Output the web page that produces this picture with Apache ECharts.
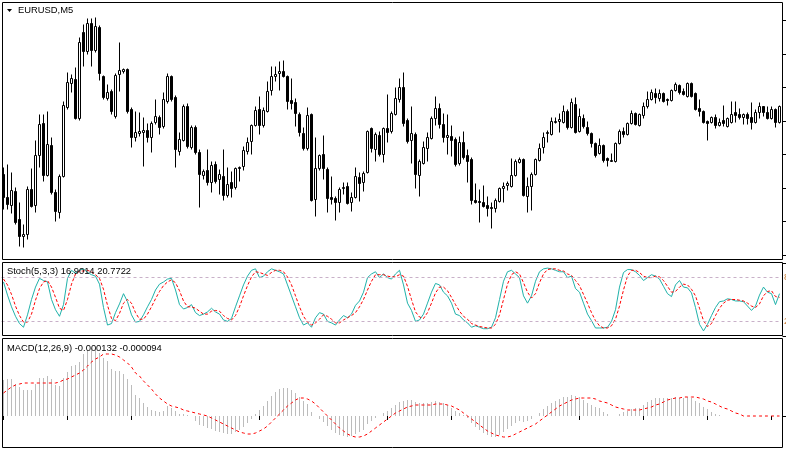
<!DOCTYPE html>
<html><head><meta charset="utf-8">
<script src="https://cdn.jsdelivr.net/npm/echarts@6/dist/echarts.min.js"></script>
<style>html,body{margin:0;padding:0;background:#fff}#c{width:786px;height:452px}</style>
</head><body><div id="c"></div>
<script>
// Price values (points above panel bottom), one per M5 bar
const open = [
84,61,53,67,39,22,24,69,53,103, 135,83,113,66,46,82,151,175,179,140,
226,207,235,208,231,182,160,167,142,184, 187,189,149,121,125,126,128,121,136,141,
132,157,182,161,107,118,152,111,131,106, 83,88,76,94,79,82,63,76,71,90,
92,107,117,133,149,133,147,168,182,185, 187,182,158,156,144,125,110,144,59,90,
104,89,61,60,56,70,72,56,61,81, 76,86,130,109,123,104,130,127,144,159,
171,138,118,124,83,95,110,120,140,150, 134,121,122,119,95,116,103,99,58,57,
56,53,51,50,57,70,73,72,83,96, 99,62,72,84,98,111,125,124,136,137,
136,147,131,154,127,140,131,125,115,105, 113,100,97,97,115,127,124,135,145,133,
143,152,159,165,160,165,159,158,168,173, 167,162,175,165,150,147,137,136,141,133,
138,132,136,146,144,141,144,141,136,146, 152,146,140,149,136];
const close = [
61,54,68,36,22,24,69,52,103,134, 83,114,66,47,82,153,176,180,140,216,
207,235,208,232,185,161,166,147,183,188, 189,147,121,126,127,128,121,135,142,131,
159,182,159,109,119,152,112,131,106,84, 87,76,93,77,84,63,74,70,90,91,
108,116,133,148,133,148,167,182,184,187, 182,157,155,145,126,110,143,58,90,103,
90,60,59,56,69,71,55,61,82,75, 85,127,110,124,104,130,126,145,160,171,
135,117,125,84,97,111,121,140,150,134, 121,123,118,94,116,101,97,58,56,56,
52,50,50,58,70,72,75,83,97,99, 63,72,84,99,110,121,126,137,137,139,
147,131,156,126,142,132,125,115,103,113, 98,98,98,115,127,124,135,145,134,144,
152,159,166,161,165,157,158,168,174,166, 164,175,162,149,147,136,135,141,133,136,
135,140,144,143,141,144,140,136,146,152, 146,140,149,136,152];
const low = [
49,49,45,34,12,11,19,51,46,91, 77,82,64,37,40,81,149,166,139,138,
192,204,192,206,178,159,158,144,140,167, 185,145,111,117,122,92,116,106,134,124,
130,155,157,91,103,117,110,109,104,51, 79,73,66,75,64,58,61,61,69,77,
88,104,104,132,124,131,146,163,177,168, 181,149,149,132,122,108,108,57,42,88,
79,46,54,38,46,64,54,47,60,57, 67,85,106,97,102,96,116,125,143,156,
132,115,95,70,62,94,97,119,133,130, 116,104,102,92,93,99,76,54,55,36,
51,42,30,46,56,56,68,71,82,95, 62,46,48,83,97,105,116,123,135,126,
135,129,130,125,126,130,123,111,101,104, 96,92,97,96,114,121,123,134,133,132,
140,150,158,155,157,156,153,157,167,164, 163,161,161,148,142,135,118,135,130,132,
132,131,135,136,139,134,134,129,135,140, 142,139,139,131,135];
const high = [
91,94,86,71,56,34,72,90,118,144, 144,147,121,69,84,157,186,184,191,221,
234,240,240,241,233,183,174,169,185,216, 190,190,151,147,146,141,135,137,159,143,
166,185,183,163,126,154,155,133,133,109, 89,109,97,97,89,109,91,87,91,92,
112,121,134,152,162,151,177,192,192,197, 198,183,180,160,146,131,151,145,121,104,
123,91,82,62,71,76,76,66,91,86, 87,128,131,126,127,131,164,147,171,180,
186,140,152,126,99,117,126,142,162,155, 145,144,133,121,122,127,109,101,75,69,
73,62,56,60,71,76,77,100,99,101, 100,81,86,100,115,126,128,141,141,145,
153,149,160,161,150,144,137,126,116,120, 114,101,105,116,129,131,136,148,146,145,
156,167,169,170,169,166,160,169,176,174, 170,176,176,166,159,148,138,142,144,140,
153,141,157,157,150,145,146,156,149,156, 152,152,152,150,153];

// Stochastic (5,3,3): main %K and signal %D
const stochK = [
74,56,40,27,17,12,29,50,67,79, 76,74,50,36,27,43,79,90,86,90,
92,87,84,82,71,39,15,17,32,44, 58,47,29,19,20,29,40,50,63,71,
74,78,79,63,43,37,39,43,32,28, 30,33,38,33,30,22,20,24,40,55,
70,82,90,92,80,82,88,92,90,88, 85,70,55,40,25,15,18,12,25,32,
30,20,18,15,22,28,25,30,42,48, 60,80,85,88,80,85,80,78,85,90,
70,45,35,20,22,30,45,60,72,70, 60,55,45,30,28,22,18,12,14,12,
10,10,12,25,50,75,88,90,85,80, 55,45,55,75,88,92,93,92,90,88,
88,80,82,65,60,45,30,21,11,11, 11,12,20,36,67,87,91,91,88,83,
76,80,84,82,78,68,58,54,70,76, 67,66,59,39,16,7,16,28,39,47,
48,51,50,48,48,47,41,35,41,56, 67,60,58,43,58];
const stochD = [
78,70,57,41,28,19,19,30,49,65, 74,76,67,53,38,35,50,71,85,89,
89,90,88,84,79,64,42,24,21,31, 45,50,45,32,23,23,30,40,51,61,
69,74,77,73,62,48,40,40,38,34, 30,30,34,35,34,28,24,22,28,40,
55,69,81,88,87,85,83,87,90,90, 88,81,70,55,40,27,19,15,18,23,
29,27,23,18,18,22,25,28,32,40, 50,63,75,84,84,84,82,81,81,84,
82,68,50,33,26,24,32,45,59,67, 67,62,53,43,34,27,23,17,15,13,
12,11,11,16,29,50,71,84,88,85, 73,60,52,58,73,85,91,92,92,90,
89,85,83,76,69,57,45,32,21,14, 11,11,14,23,41,63,82,90,90,87,
82,80,80,82,81,76,68,60,61,67, 71,70,64,55,38,21,13,17,28,38,
45,49,50,50,49,48,45,41,39,44, 55,61,62,54,53];
const stochLevels = [80, 20];

// MACD(12,26,9): histogram and signal (1e-5 units)
const macdHist = [
36,37,37,32,29,26,26,26,32,38, 38,40,37,31,30,38,44,50,51,54,
62,66,68,68,63,58,55,47,45,45, 42,37,31,21,18,13,9,6,5,4,
5,10,8,5,2,2,1,0,-5,-9, -10,-12,-13,-15,-16,-17,-18,-18,-16,-14,
-11,-7,-3,2,6,10,15,20,24,27, 28,28,26,23,19,15,12,4,0,-3,
-6,-10,-14,-17,-19,-20,-21,-20,-18,-16, -14,-8,-5,-2,0,3,5,8,11,14,
15,16,16,14,13,13,13,14,15,14, 13,11,8,5,3,1,-2,-7,-11,-14,
-17,-19,-21,-21,-19,-16,-13,-10,-7,-5, -6,-5,-3,0,3,7,10,13,15,17,
19,19,21,20,19,16,13,11,9,8, 4,2,0,0,2,4,5,7,8,8,
11,14,16,18,18,18,18,18,19,18, 18,19,18,15,13,9,7,4,2,1,
0,0,0,0,0,0,0,0,0,0, 0,0,0,0,0];
const macdSignal = [
23,26,29,31,32,33,33,33,33,33, 33,33,33,33,34,36,37,39,41,43,
46,50,54,57,59,62,62,62,61,59, 56,53,49,43,40,35,31,27,22,18,
15,12,10,9,8,6,5,4,3,2, 1,0,-2,-4,-6,-8,-10,-12,-14,-16,
-17,-18,-18,-17,-15,-13,-10,-6,-2,2, 6,10,13,16,18,18,17,15,12,8,
4,0,-4,-8,-12,-15,-18,-20,-21,-21, -20,-18,-15,-12,-9,-6,-3,0,3,5,
7,9,10,11,11,11,11,11,12,12, 12,11,10,8,6,3,0,-3,-6,-9,
-12,-15,-17,-19,-20,-21,-21,-20,-18,-16, -14,-12,-10,-8,-5,-2,1,4,7,10,
12,14,16,17,18,18,18,18,17,15, 14,13,11,9,8,7,6,6,6,6,
7,8,9,11,12,14,16,17,18,18, 19,19,19,19,18,17,15,14,12,10,
8,7,5,3,2,0,0,0,0,0, 0,0,0,0,0];

const titleMain = 'EURUSD,M5';
const titleStoch = 'Stoch(5,3,3) 16.9014 20.7722';
const titleMacd = 'MACD(12,26,9) -0.000132 -0.000094';
const mainTicks = [3, 37, 70.5, 104, 137.5, 171, 204.5, 238];

const bars = open.map((_, i) => String(i));
const ohlc = open.map((o, i) => [o, close[i], low[i], high[i]]);

const chart = echarts.init(document.getElementById('c'));
const FONT = '"Liberation Sans", Arial, sans-serif';
const xBase = (gi, ticks) => ({
  type: 'category', gridIndex: gi, data: bars, boundaryGap: true,
  axisLine: {show: false}, axisLabel: {show: false}, splitLine: {show: false},
  axisTick: ticks ? {show: true, interval: 15, alignWithLabel: true, length: 4, lineStyle: {color: '#000'}} : {show: false}
});
const gridBase = {containLabel: false, outerBoundsMode: 'none'};
// stoch panel geometry (for level label placement)
const stochTop = 263, stochH = 73;
chart.setOption({
  animation: false,
  backgroundColor: '#ffffff',
  grid: [
    Object.assign({left: 1.5, top: 1.5, width: 780, height: 257}, gridBase),
    Object.assign({left: 1.5, top: stochTop, width: 780, height: stochH}, gridBase),
    Object.assign({left: 1.5, top: 339, width: 780, height: 108}, gridBase)
  ],
  xAxis: [xBase(0, false), xBase(1, false), Object.assign(xBase(2, true), {offset: 1})],
  yAxis: [
    {type: 'value', gridIndex: 0, min: 0, max: 257, position: 'right', offset: 1,
     axisLine: {show: false}, splitLine: {show: false}, axisLabel: {show: false},
     axisTick: {show: true, customValues: mainTicks, length: 4, lineStyle: {color: '#000'}}},
    {type: 'value', gridIndex: 1, min: 0, max: 100, position: 'right', offset: 1,
     axisLine: {show: false}, splitLine: {show: false}, axisLabel: {show: false},
     axisTick: {show: true, customValues: [0, 100], length: 4, lineStyle: {color: '#000'}}},
    {type: 'value', gridIndex: 2, min: -31, max: 77, position: 'right', offset: 1,
     axisLine: {show: false}, splitLine: {show: false}, axisLabel: {show: false},
     axisTick: {show: true, customValues: [0], length: 4, lineStyle: {color: '#000'}}}
  ],
  series: [
    {type: 'candlestick', xAxisIndex: 0, yAxisIndex: 0, data: ohlc, barWidth: 2,
     itemStyle: {color: '#ffffff', color0: '#000000', borderColor: '#000000', borderColor0: '#000000', borderWidth: 1}},
    {type: 'line', xAxisIndex: 1, yAxisIndex: 1, data: stochK, symbol: 'none',
     lineStyle: {color: '#20b2aa', width: 1},
     markLine: {silent: true, symbol: ['none', 'none'], label: {show: false},
       lineStyle: {color: '#c8b0c8', type: [3, 3], width: 1},
       data: stochLevels.map(v => ({yAxis: v}))}},
    {type: 'line', xAxisIndex: 1, yAxisIndex: 1, data: stochD, symbol: 'none',
     lineStyle: {color: '#ff0000', width: 1, type: [3, 2]}},
    {type: 'bar', xAxisIndex: 2, yAxisIndex: 2, data: macdHist, barWidth: 1,
     itemStyle: {color: '#bcbcbc'}},
    {type: 'line', xAxisIndex: 2, yAxisIndex: 2, data: macdSignal, symbol: 'none',
     lineStyle: {color: '#ff0000', width: 1, type: [3, 3]}}
  ],
  graphic: [
    {type: 'rect', z: 100, silent: true, shape: {x: 2.5, y: 2.5, width: 780, height: 257}, style: {fill: 'none', stroke: '#000', lineWidth: 1}},
    {type: 'rect', z: 100, silent: true, shape: {x: 2.5, y: 262.5, width: 780, height: 73}, style: {fill: 'none', stroke: '#000', lineWidth: 1}},
    {type: 'rect', z: 100, silent: true, shape: {x: 2.5, y: 338.5, width: 780, height: 109}, style: {fill: 'none', stroke: '#000', lineWidth: 1}},
    {type: 'polygon', z: 100, silent: true, shape: {points: [[7, 9], [12, 9], [9.5, 12]]}, style: {fill: '#000'}},
    {type: 'text', z: 100, silent: true, style: {text: titleMain, x: 18, y: 10.5, fill: '#000', fontSize: 9.4, fontFamily: FONT, verticalAlign: 'middle'}},
    {type: 'text', z: 100, silent: true, style: {text: titleStoch, x: 7, y: 271.5, fill: '#000', fontSize: 9.4, fontFamily: FONT, verticalAlign: 'middle'}},
    {type: 'text', z: 100, silent: true, style: {text: titleMacd, x: 7, y: 348, fill: '#000', fontSize: 9.4, fontFamily: FONT, verticalAlign: 'middle'}}
  ].concat(stochLevels.map(v => ({
    type: 'text', z: 100, silent: true,
    style: {text: String(v), x: 784, y: stochTop + stochH * (1 - v / 100), fill: '#c87a30', fontSize: 9, fontFamily: FONT, verticalAlign: 'middle'}
  })))
});
</script></body></html>
